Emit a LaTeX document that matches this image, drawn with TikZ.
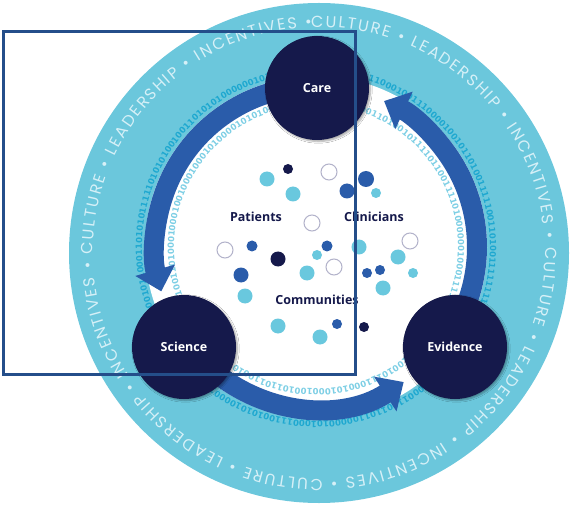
\documentclass[tikz,border=0pt]{standalone}
\usepackage{fontspec}
\usetikzlibrary{arrows.meta,decorations.text,shadows.blur}

\newfontfamily\ringfont{Poppins}
\newfontfamily\labelfont{Open Sans}
\newfontfamily\digitfont{DejaVu Sans}

\definecolor{ringblue}{RGB}{107,199,220}
\definecolor{ringtext}{RGB}{214,240,247}
\definecolor{bitouter}{RGB}{30,168,208}
\definecolor{bitinner}{RGB}{125,207,229}
\definecolor{flowblue}{RGB}{42,92,170}
\definecolor{navy}{RGB}{21,25,75}
\definecolor{dotcyan}{RGB}{105,200,222}
\definecolor{dotline}{RGB}{178,178,202}
\definecolor{frameblue}{RGB}{36,78,138}

% fonts of the two binary rings
\newcommand\bitoutfont{\digitfont\bfseries\fontsize{8.5}{9}\selectfont\color{bitouter}}
\newcommand\bitinfont{\digitfont\bfseries\fontsize{8.5}{9}\selectfont\color{bitinner}}

% #2 := a string of #1 random binary digits
\newcommand\makebits[2]{%
  \gdef#2{}%
  \foreach \j in {1,...,#1}{%
    \pgfmathrandominteger{\bitval}{0}{1}%
    \xdef#2{#2\bitval}}}

\begin{document}
\begin{tikzpicture}[x=1pt,y=1pt,
  hub/.style={circle, fill=navy, minimum size=104pt, inner sep=0pt,
    text=white, font=\labelfont\bfseries\fontsize{12.5}{14}\selectfont,
    blur shadow={shadow xshift=1.5pt, shadow yshift=-1.5pt,
      shadow opacity=35, shadow blur steps=6}},
  flow/.style={draw=flowblue, line width=20pt,
    -{Triangle[width=40pt,length=22pt]}},
  tag/.style={inner sep=0pt, text=navy,
    font=\labelfont\bfseries\fontsize{12.5}{14}\selectfont},
  dotcy/.style={circle, fill=dotcyan, inner sep=0pt},
  dotbl/.style={circle, fill=flowblue, inner sep=0pt},
  dotnv/.style={circle, fill=navy, inner sep=0pt},
  dotol/.style={circle, fill=white, draw=dotline, line width=1pt, inner sep=0pt},
  frameline/.style={draw=frameblue, line width=3pt},
  bitsout/.style={decorate, decoration={text along path, text align={fit to path},
    text/.expanded={|\noexpand\bitoutfont|#1}}},
  bitsin/.style={decorate, decoration={text along path, text align={fit to path},
    text/.expanded={|\noexpand\bitinfont|#1}}}]

\useasboundingbox (0,0) rectangle (570,504);

% disc centre and centre of the inner cycle
\coordinate (O) at (319,251);
\coordinate (R) at (316,257);

% outer band and inner white field
\fill[ringblue] (O) circle[radius=250];
\fill[white] (R) circle[radius=171];

% lettering round the outer band, read clockwise
\path[decorate, decoration={text along path, text align={fit to path},
  text={|\ringfont\fontsize{16}{16}\selectfont\color{ringtext}|CULTURE • LEADERSHIP • INCENTIVES • CULTURE • LEADERSHIP • INCENTIVES • CULTURE • LEADERSHIP • INCENTIVES • CULTURE • LEADERSHIP • INCENTIVES • }}]
  ([shift={(92:226)}]O) arc[start angle=92, end angle=-268, radius=226];

% binary digits on both sides of the cycle, in the gaps between the stages
\pgfmathsetseed{11}
\makebits{50}{\bitsOa}\makebits{40}{\bitsOb}\makebits{51}{\bitsOc}
\makebits{41}{\bitsIa}\makebits{33}{\bitsIb}\makebits{42}{\bitsIc}
\path[bitsout=\bitsOa] ([shift={(74.6:174)}]R) arc[start angle=74.6, end angle=-20.7, radius=174];
\path[bitsout=\bitsOb] ([shift={(309.3:174)}]R) arc[start angle=309.3, end angle=232.2, radius=174];
\path[bitsout=\bitsOc] ([shift={(202.2:174)}]R) arc[start angle=202.2, end angle=104.6, radius=174];
\path[bitsin=\bitsIa] ([shift={(74.6:142)}]R) arc[start angle=74.6, end angle=-20.7, radius=142];
\path[bitsin=\bitsIb] ([shift={(309.3:142)}]R) arc[start angle=309.3, end angle=232.2, radius=142];
\path[bitsin=\bitsIc] ([shift={(202.2:142)}]R) arc[start angle=202.2, end angle=104.6, radius=142];

% cycle arrows, running counter-clockwise from stage to stage
\draw[flow] ([shift={(100:161)}]R) arc[start angle=100, end angle=196, radius=161];
\draw[flow] ([shift={(224:161)}]R) arc[start angle=224, end angle=303, radius=161];
\draw[flow] ([shift={(332:161)}]R) arc[start angle=332, end angle=425, radius=161];

% the three stages, above the arrow tails
\node[hub] (care) at (317,416) {Care};
\node[hub] (science) at (184,157) {Science};
\node[hub] (evidence) at (455,157) {Evidence};

% scattered people dots
\foreach \x/\y/\r/\s [count=\k] in {
  267/325/7.5/cy, 288/335/5/nv, 329/332/8/ol, 293/310/7.5/cy,
  347/313/7.5/bl, 366/325/8/bl, 376/311/5/cy, 312/281/8/ol,
  225/254/8/ol, 252/258/5.5/bl, 278/245/7.5/nv, 327/258/5.5/bl,
  317/249/5/cy, 334/237/8/ol, 359/257/7.5/cy, 410/263/8/ol,
  398/247/7.5/cy, 413/231/5/cy, 241/229/7.5/bl, 307/231/7.5/cy,
  367/231/5/bl, 380/234/5/bl, 383/216/7.5/cy, 245/208/7.5/cy,
  278/178/7.5/cy, 337/180/5/bl, 364/177/5/nv, 320/167/7.5/cy}{
  \node[dot\s, minimum size=2*\r] (dot\k) at (\x,\y) {};
}

% group labels
\node[tag] (patients) at (256,287) {Patients};
\node[tag] (clinicians) at (374,287) {Clinicians};
\node[tag] (communities) at (317,204) {Communities};

% outline frame on top
\draw[frameline] (3,472) rectangle (355,130);
\end{tikzpicture}
\end{document}
